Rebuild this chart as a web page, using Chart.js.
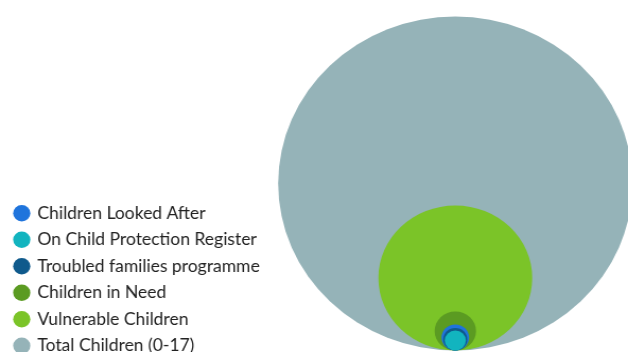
<!DOCTYPE html>
<html>
<head>
<meta charset="utf-8">
<title>Vulnerable children</title>
<script src="https://cdn.jsdelivr.net/npm/chart.js@4/dist/chart.umd.min.js"></script>
<style>
  html, body { margin: 0; padding: 0; background: #fff; overflow: hidden; }
  #wrap { width: 628px; height: 352px; overflow: hidden; }
</style>
</head>
<body>
<div id="wrap"><canvas id="c" width="592" height="364" style="display:block;width:628px;height:364px"></canvas></div>
<script>
// Groups of children, listed in legend order
const categories = [
  'Children Looked After',
  'On Child Protection Register',
  'Troubled families programme',
  'Children in Need',
  'Vulnerable Children',
  'Total Children (0-17)'
];

// Number of children in each group
const counts = [303, 179, 229, 682, 9425, 50000];

// Fill colour for each group
const colours = ['#1f74dc', '#12b4bf', '#0f5a8c', '#5b9b22', '#7bc428', '#95b3b8'];

// Stacking: smaller circles are painted over larger ones
const stacking = [2, 0, 1, 3, 4, 5];

// Circle area is proportional to the count; the largest group gets this radius (px)
const MAX_RADIUS = 167;
const maxCount = Math.max(...counts);
const radiusOf = v => Math.sqrt(v / maxCount) * MAX_RADIUS;

Chart.defaults.font.family = 'Lato, "Open Sans", sans-serif';
Chart.defaults.color = '#222';

const datasets = categories.map((label, i) => {
  const r = radiusOf(counts[i]);
  return {
    label,
    // every circle shares one centre line and rests on the same baseline
    data: [{ x: 0, y: r, r, count: counts[i] }],
    backgroundColor: colours[i],
    borderWidth: 0,
    hoverBorderWidth: 0,
    hoverRadius: 0,
    order: stacking[i],
    clip: false
  };
});

new Chart(document.getElementById('c'), {
  type: 'bubble',
  data: { datasets },
  options: {
    responsive: false,
    devicePixelRatio: 1,
    animation: false,
    layout: { padding: { left: 4, top: 0, right: 0, bottom: 0 }, autoPadding: false },
    scales: {
      x: { type: 'linear', min: -425.2, max: 162.8, display: false },
      y: { type: 'linear', min: -13.5, max: 350.5, display: false }
    },
    plugins: {
      legend: {
        position: 'chartArea',
        fullSize: false,
        align: 'end',
        labels: {
          usePointStyle: true,
          pointStyle: 'circle',
          boxWidth: 13,
          boxHeight: 11.5,
          padding: 10,
          color: '#222',
          font: { size: 16.5 },
          // keep the legend in dataset order, independent of paint order
          sort: (a, b) => a.datasetIndex - b.datasetIndex
        }
      },
      tooltip: { enabled: false }
    }
  }
});
</script>
</body>
</html>
